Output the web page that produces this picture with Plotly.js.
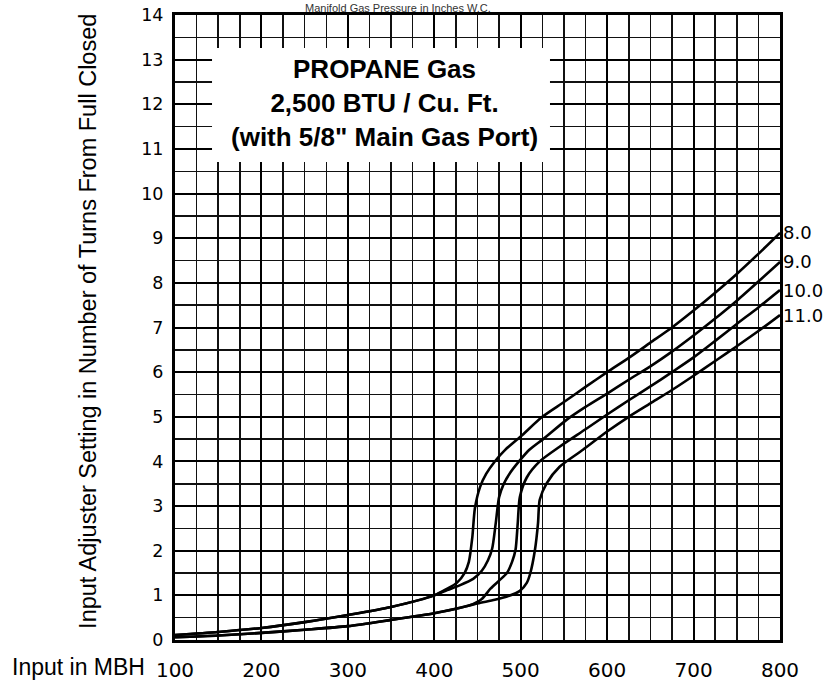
<!DOCTYPE html>
<html>
<head>
<meta charset="utf-8">
<script src="https://cdn.plot.ly/plotly-3.0.1.min.js"></script>
<style>
  html, body { margin: 0; padding: 0; background: #fff; }
  #chart { width: 825px; height: 681px; }
</style>
</head>
<body>
<div id="chart"></div>
<script>
// ---- data ----
const pressureLabels = ["8.0", "9.0", "10.0", "11.0"];

const inputMBH_8 = [100,150,200,250,300,350,400,415,426,435,440,444,447,453,460,470,482,500,525,550,575,600,625,650,675,700,725,750,775,800];
const turns_8    = [0.11,0.18,0.27,0.40,0.56,0.74,1.00,1.15,1.28,1.50,1.75,2.30,2.95,3.43,3.72,4.00,4.26,4.56,5.00,5.33,5.67,6.00,6.32,6.66,7.00,7.38,7.78,8.20,8.65,9.12];

const inputMBH_9 = [100,150,200,250,300,350,400,415,430,445,455,462,467,471,475,480,488,498,510,526,553,575,600,625,650,675,700,725,750,775,800];
const turns_9    = [0.11,0.18,0.27,0.40,0.56,0.74,1.00,1.12,1.23,1.37,1.55,1.78,2.05,2.60,3.20,3.48,3.75,4.00,4.26,4.50,4.93,5.22,5.52,5.83,6.13,6.46,6.82,7.20,7.60,8.03,8.47];

const inputMBH_10 = [100,150,200,250,300,350,400,425,440,455,465,475,484,490,494,496.5,499,507,522,545,575,600,625,650,675,700,725,750,775,800];
const turns_10    = [0.06,0.10,0.16,0.23,0.31,0.45,0.60,0.70,0.77,0.92,1.15,1.33,1.50,1.75,2.02,2.60,3.20,3.64,4.00,4.33,4.72,5.05,5.37,5.68,6.00,6.33,6.70,7.08,7.45,7.84];

const inputMBH_11 = [100,150,200,250,300,350,400,425,450,470,485,499,507,511,516.5,520,522,530,545,572,600,625,650,675,700,725,750,775,800];
const turns_11    = [0.06,0.10,0.16,0.23,0.31,0.45,0.60,0.70,0.82,0.90,0.98,1.10,1.28,1.49,2.02,2.61,3.14,3.51,3.88,4.26,4.67,5.00,5.30,5.60,5.92,6.25,6.58,6.92,7.28];

const xTickVals = [100,200,300,400,500,600,700,800];
const xTickText = ["100","200","300","400","500","600","700","800"];
const yTickVals = [0,1,2,3,4,5,6,7,8,9,10,11,12,13,14];
const yTickText = ["0","1","2","3","4","5","6","7","8","9","10","11","12","13","14"];

const chartTitle = "Manifold Gas Pressure in Inches W.C.";
const xTitle = "Input in MBH";
const yTitle = "Input Adjuster Setting in Number of Turns From Full Closed";
const boxLines = ["PROPANE Gas", "2,500 BTU / Cu. Ft.", "(with 5/8\" Main Gas Port)"];

// ---- build ----
const seriesX = [inputMBH_8, inputMBH_9, inputMBH_10, inputMBH_11];
const seriesY = [turns_8, turns_9, turns_10, turns_11];

const traces = seriesX.map((xs, i) => ({
  type: 'scatter',
  mode: 'lines',
  x: xs,
  y: seriesY[i],
  name: pressureLabels[i],
  line: { color: '#000', width: 2.6, shape: 'spline', smoothing: 0.7 },
  hoverinfo: 'x+y+name',
  showlegend: false
}));

const annotations = [];
pressureLabels.forEach((lab, i) => {
  const ys = seriesY[i];
  annotations.push({
    xref: 'x', yref: 'y', x: seriesX[i][seriesX[i].length - 1], y: ys[ys.length - 1],
    text: lab, showarrow: false, xanchor: 'left', yanchor: 'middle', xshift: 1,
    font: { family: 'DejaVu Sans, Liberation Sans, sans-serif', size: 18, color: '#000' }
  });
});

annotations.push({
  xref: 'paper', yref: 'paper', x: 0.3686, y: 1.0, xanchor: 'center', yanchor: 'bottom',
  text: chartTitle, showarrow: false, borderpad: 0,
  font: { family: 'Liberation Sans, Arial, sans-serif', size: 11, color: '#333' }
});
annotations.push({
  xref: 'paper', yref: 'paper', x: -0.2727, y: -0.0432, xanchor: 'left', yanchor: 'middle',
  text: xTitle, showarrow: false,
  font: { family: 'Liberation Sans, Arial, sans-serif', size: 23, color: '#000' }
});
annotations.push({
  xref: 'paper', yref: 'paper', x: -0.1438, y: 0.509, xanchor: 'center', yanchor: 'middle',
  text: yTitle, showarrow: false, textangle: -90,
  font: { family: 'Liberation Sans, Arial, sans-serif', size: 23.5, color: '#000' }
});
annotations.push({
  xref: 'paper', yref: 'paper', x: 0.3455, y: 0.86, xanchor: 'center', yanchor: 'middle',
  text: boxLines.map(s => '<b>' + s + '</b>').join('<br>'), showarrow: false,
  font: { family: 'Liberation Sans, Arial, sans-serif', size: 26, color: '#000' }
});

const layout = {
  width: 825, height: 681,
  margin: { l: 175, r: 45, t: 15, b: 41, pad: 0 },
  paper_bgcolor: '#fff', plot_bgcolor: '#fff',
  showlegend: false,
  xaxis: {
    range: [100, 800], tickmode: 'array', tickvals: xTickVals, ticktext: xTickText,
    showgrid: true, gridcolor: '#000', gridwidth: 2,
    minor: { dtick: 25, tick0: 100, showgrid: true, gridcolor: '#111', gridwidth: 1.5, ticks: '' },
    showline: true, mirror: true, linecolor: '#000', linewidth: 3,
    ticks: '', ticklabelstandoff: 10, zeroline: false,
    tickfont: { family: 'DejaVu Sans, sans-serif', size: 20, color: '#000' }
  },
  yaxis: {
    range: [0, 14], tickmode: 'array', tickvals: yTickVals, ticktext: yTickText,
    showgrid: true, gridcolor: '#000', gridwidth: 2,
    minor: { dtick: 0.5, tick0: 0, showgrid: true, gridcolor: '#111', gridwidth: 1.5, ticks: '' },
    showline: true, mirror: true, linecolor: '#000', linewidth: 3,
    ticks: '', ticklabelstandoff: 5, zeroline: false,
    tickfont: { family: 'DejaVu Sans, sans-serif', size: 17.5, color: '#000' }
  },
  shapes: [{
    type: 'rect', xref: 'paper', yref: 'paper', layer: 'above',
    x0: 0.0612, x1: 0.6198, y0: 0.7648, y1: 0.9472,
    fillcolor: '#fff', line: { width: 0 }
  }],
  annotations: annotations
};

Plotly.newPlot('chart', traces, layout, { staticPlot: true, displayModeBar: false });
</script>
</body>
</html>
